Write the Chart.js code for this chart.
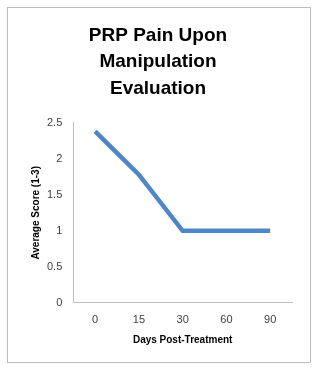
<!DOCTYPE html>
<html>
<head>
  <title>PRP Pain Upon Manipulation Evaluation</title>
  <script src="https://cdn.jsdelivr.net/npm/chart.js"></script>
  <style>
    body { margin: 0; background: #fff; }
    #box { position: absolute; left: 7px; top: 7px; width: 302px; height: 354px; border: 1px solid #bcbcbc; }
  </style>
</head>
<body>
  <div id="box"><canvas id="painChart" width="302" height="354"></canvas></div>

  <script>
    const days = ['0', '15', '30', '60', '90'];
    const avgScore = [2.38, 1.78, 1.0, 1.0, 1.0];
    const titleLines = ['PRP Pain Upon', 'Manipulation', 'Evaluation'];

    const ctx = document.getElementById('painChart').getContext('2d');
    new Chart(ctx, {
      type: 'line',
      data: {
        labels: days,
        datasets: [{
          label: 'Average Score',
          data: avgScore,
          borderColor: '#4f86c6',
          borderWidth: 4.5,
          pointRadius: 0,
          tension: 0,
          fill: false
        }]
      },
      options: {
        responsive: false,
        animation: false,
        devicePixelRatio: 1,
        layout: { padding: { left: 16, right: 18, top: 10, bottom: 16 } },
        plugins: {
          legend: { display: false },
          tooltip: { enabled: false },
          title: {
            display: true,
            text: titleLines,
            color: '#000',
            font: { family: 'Liberation Sans', size: 19, weight: 'bold', lineHeight: 1.4 },
            padding: { top: 4, bottom: 21 }
          }
        },
        scales: {
          x: {
            offset: true,
            grid: { display: false },
            border: { color: '#bfbfbf' },
            ticks: { color: '#404040', font: { family: 'Liberation Sans', size: 11 }, padding: 3 },
            title: {
              display: true,
              text: 'Days Post-Treatment',
              color: '#000',
              font: { family: 'Liberation Sans', size: 10, weight: 'bold' },
              padding: { top: 4, bottom: 0 }
            }
          },
          y: {
            min: 0,
            max: 2.5,
            grid: { display: false },
            border: { color: '#bfbfbf' },
            ticks: {
              stepSize: 0.5,
              color: '#404040',
              font: { family: 'Liberation Sans', size: 11 },
              padding: 3,
              callback: (v) => String(Math.round(v * 10) / 10)
            },
            title: {
              display: true,
              text: 'Average Score (1-3)',
              color: '#000',
              font: { family: 'Liberation Sans', size: 10, weight: 'bold' },
              padding: { top: 6, bottom: 2 }
            }
          }
        }
      }
    });
  </script>
</body>
</html>
